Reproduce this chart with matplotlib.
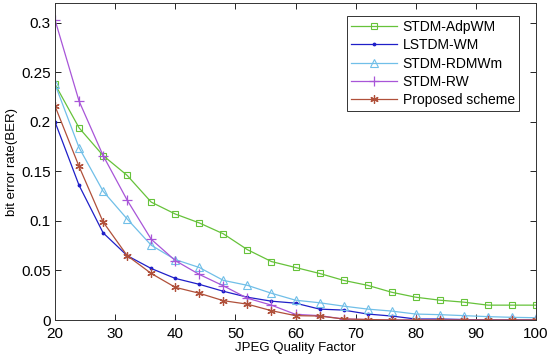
import matplotlib.pyplot as plt
import numpy as np

plt.rcParams['font.family'] = ['Liberation Sans', 'DejaVu Sans']

# JPEG quality factors
quality = [20, 24, 28, 32, 36, 40, 44, 48, 52, 56, 60, 64, 68, 72, 76, 80, 84, 88, 92, 96, 100]

# bit error rates
ber_adpwm = [0.238, 0.194, 0.166, 0.146, 0.119, 0.107, 0.098, 0.087, 0.071, 0.059, 0.053,
             0.047, 0.040, 0.035, 0.028, 0.023, 0.020, 0.018, 0.015, 0.015, 0.015]
ber_lstdm = [0.200, 0.136, 0.088, 0.065, 0.052, 0.042, 0.036, 0.029, 0.023, 0.019, 0.017,
             0.011, 0.010, 0.006, 0.004, 0.001, 0.001, 0.0005, 0.0, 0.0, 0.0]
ber_rdmwm = [0.238, 0.174, 0.130, 0.102, 0.0755, 0.061, 0.053, 0.040, 0.035, 0.027, 0.020,
             0.0174, 0.014, 0.011, 0.009, 0.006, 0.0054, 0.0044, 0.0034, 0.0027, 0.0023]
ber_rw = [0.303, 0.221, 0.166, 0.121, 0.0815, 0.060, 0.046, 0.0345, 0.022, 0.015, 0.0057,
          0.0044, 0.001, 0.0005, 0.0, 0.0, 0.0, 0.0, 0.0, 0.0, 0.0]
ber_proposed = [0.216, 0.155, 0.099, 0.065, 0.047, 0.033, 0.027, 0.0195, 0.016, 0.0094, 0.0044,
                0.004, 0.001, 0.0005, 0.0, 0.0, 0.0, 0.0, 0.0, 0.0, 0.0]

fig = plt.figure(figsize=(5.5, 3.55), dpi=100)
ax = fig.add_axes([55/550, 1 - 320/355, 481/550, 317/355])

ax.plot(quality, ber_adpwm, color='#66c23a', marker='s', markersize=5,
        markerfacecolor='none', markeredgewidth=0.8, linewidth=0.9, label='STDM-AdpWM')
ax.plot(quality, ber_lstdm, color='#1f1fc8', marker='.', markersize=3.5,
        linewidth=0.9, label='LSTDM-WM')
ax.plot(quality, ber_rdmwm, color='#70bfe8', marker='^', markersize=6,
        markerfacecolor='none', markeredgewidth=0.8, linewidth=0.9, label='STDM-RDMWm')
ax.plot(quality, ber_rw, color='#a855d8', marker='+', markersize=7,
        markeredgewidth=0.9, linewidth=0.9, label='STDM-RW')
ax.plot(quality, ber_proposed, color='#b0503a', marker=(6, 2, 0), markersize=6,
        markeredgewidth=0.9, linewidth=0.9, label='Proposed scheme')

ax.set_xlim(20, 100)
ax.set_ylim(0, 0.32)
ax.set_xticks(np.arange(20, 101, 10))
ax.set_yticks([0, 0.05, 0.1, 0.15, 0.2, 0.25, 0.3])
ax.set_yticklabels(['0', '0.05', '0.1', '0.15', '0.2', '0.25', '0.3'])
ax.tick_params(direction='in', top=True, right=True, labelsize=11, length=4, width=0.6)
ax.tick_params(axis='x', pad=5)
ax.tick_params(axis='y', pad=3)
for s in ax.spines.values():
    s.set_linewidth(0.7)
    s.set_color('#333333')

ax.set_xlabel('JPEG Quality Factor', fontsize=9.5, labelpad=1)
ax.set_ylabel('bit error rate(BER)', fontsize=9.5, labelpad=2)

leg = ax.legend(loc='upper right', bbox_to_anchor=((519 - 55) / 481, (320 - 16) / 317),
                fontsize=10, fancybox=False, framealpha=1, edgecolor='#333333',
                numpoints=1, handlelength=3.3, borderpad=0.3, labelspacing=0.3,
                handletextpad=0.4, borderaxespad=0)
leg.get_frame().set_linewidth(0.7)

fig.savefig('out.png', dpi=100)
